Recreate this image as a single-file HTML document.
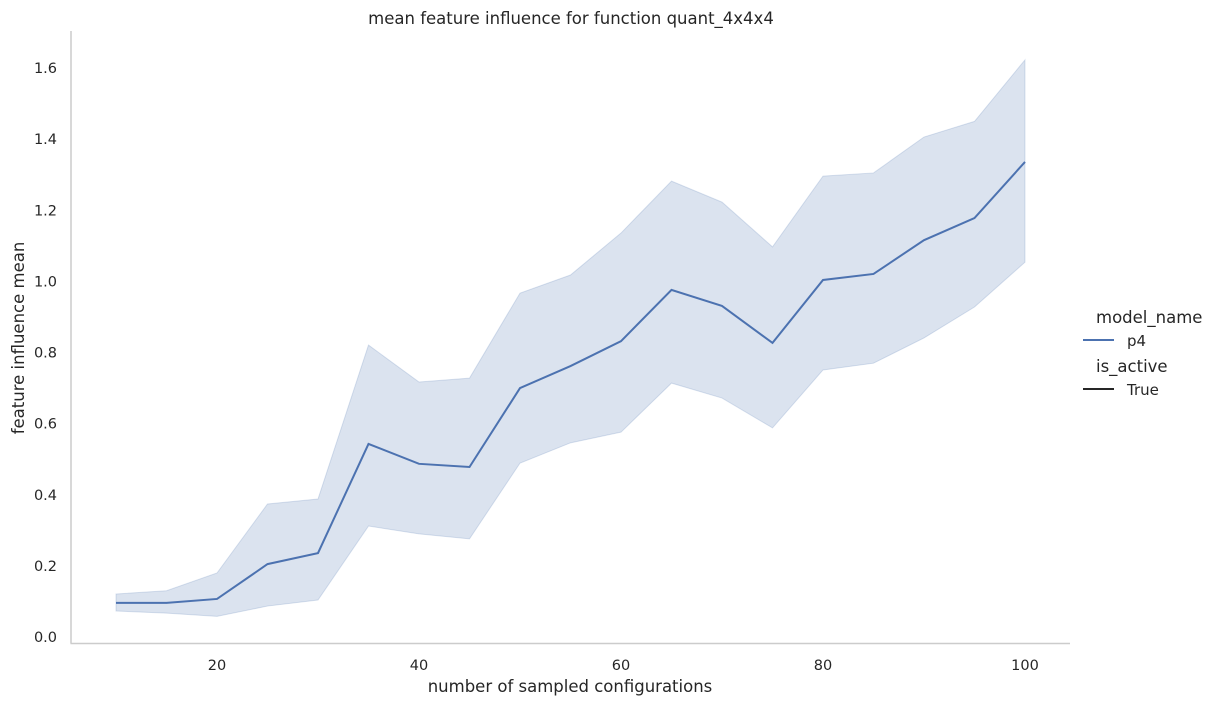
<!DOCTYPE html>
<html><head><meta charset="utf-8"><style>
body{margin:0;background:#fff;}
svg{display:block;font-family:"DejaVu Sans","Liberation Sans",sans-serif;fill:#262626;}
</style></head><body>
<svg id="chart" width="1216" height="706">
<text x="571" y="24" font-size="16.5" text-anchor="middle">mean feature influence for function quant_4x4x4</text>
<g id="yticks"></g><g id="xticks"></g>
<path id="band" fill="#4c72b0" fill-opacity="0.2" stroke="#4c72b0" stroke-opacity="0.2" stroke-width="1"></path>
<path id="line" fill="none" stroke="#4c72b0" stroke-width="2"></path>
<line x1="71" y1="31" x2="71" y2="643.5" stroke="#cccccc" stroke-width="1.5"/>
<line x1="70.5" y1="643.5" x2="1070" y2="643.5" stroke="#cccccc" stroke-width="1.5"/>
<text x="570" y="692" font-size="16.5" text-anchor="middle">number of sampled configurations</text>
<text transform="translate(24,338) rotate(-90)" font-size="16.5" text-anchor="middle">feature influence mean</text>
<g>
<text x="1096" y="323" font-size="16.5">model_name</text>
<line x1="1083" y1="340" x2="1114" y2="340" stroke="#4c72b0" stroke-width="2"/>
<text x="1127" y="346" font-size="15">p4</text>
<text x="1096" y="372" font-size="16.5">is_active</text>
<line x1="1083" y1="389" x2="1114" y2="389" stroke="#262626" stroke-width="2"/>
<text x="1127" y="395" font-size="15">True</text>
</g>
</svg>
<script>
const xs=[10,15,20,25,30,35,40,45,50,55,60,65,70,75,80,85,90,95,100];
const means=[0.096,0.096,0.107,0.205,0.236,0.543,0.487,0.478,0.70,0.762,0.832,0.976,0.931,0.827,1.004,1.021,1.116,1.178,1.336];
const uppers=[0.121,0.13,0.18,0.374,0.388,0.821,0.717,0.728,0.967,1.018,1.136,1.282,1.223,1.097,1.296,1.305,1.406,1.45,1.623];
const lowers=[0.073,0.067,0.058,0.087,0.104,0.312,0.29,0.276,0.489,0.546,0.576,0.714,0.672,0.588,0.751,0.77,0.841,0.928,1.054];
const xTicks=[20,40,60,80,100];
const yTicks=[0,0.2,0.4,0.6,0.8,1.0,1.2,1.4,1.6];
const X=v=>217+(v-20)*10.1;
const Y=v=>637-v*355.6;
const NS="http://www.w3.org/2000/svg";
const line=document.getElementById('line');
line.setAttribute('d',xs.map((x,i)=>(i?'L':'M')+X(x)+','+Y(means[i])).join(''));
let d=xs.map((x,i)=>(i?'L':'M')+X(x)+','+Y(uppers[i])).join('');
for(let i=xs.length-1;i>=0;i--)d+='L'+X(xs[i])+','+Y(lowers[i]);
document.getElementById('band').setAttribute('d',d+'Z');
const yg=document.getElementById('yticks');
yTicks.forEach(v=>{const t=document.createElementNS(NS,'text');
t.setAttribute('x',57);t.setAttribute('y',Y(v)+5);t.setAttribute('font-size','14.5');t.setAttribute('text-anchor','end');
t.textContent=v.toFixed(1);


yg.appendChild(t);});
const xg=document.getElementById('xticks');
xTicks.forEach(v=>{const t=document.createElementNS(NS,'text');
t.setAttribute('x',X(v));t.setAttribute('y',670);t.setAttribute('font-size','14.5');t.setAttribute('text-anchor','middle');
t.textContent=v;


xg.appendChild(t);});
</script>
</body></html>
